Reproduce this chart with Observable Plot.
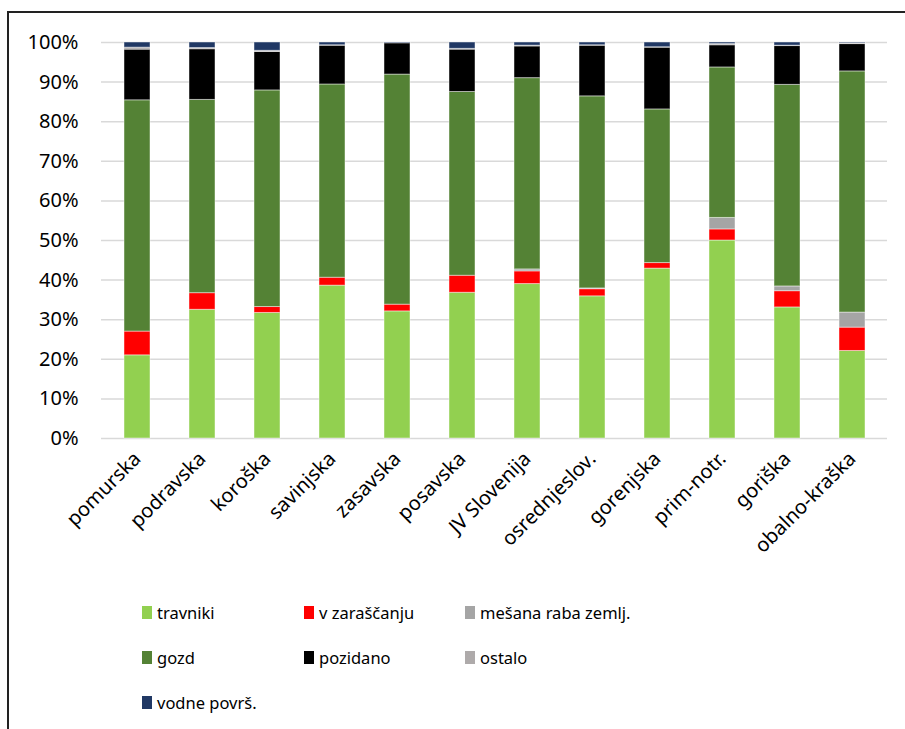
<!DOCTYPE html>
<html>
<head>
<meta charset="utf-8">
<script src="https://cdn.jsdelivr.net/npm/d3@7"></script>
<script src="https://cdn.jsdelivr.net/npm/@observablehq/plot@0.6"></script>
<style>
  html, body { margin: 0; padding: 0; background: #fff; }
  #wrap { position: relative; width: 905px; height: 729px; overflow: hidden; font-family: "Noto Sans", sans-serif; }
  #frame { position: absolute; left: 7px; top: 11px; right: -4px; bottom: -4px; border-left: 2px solid #222; border-top: 2px solid #222; }
  #chart { position: absolute; left: 0; top: 0; }
  #legend { position: absolute; left: 0; top: 0; width: 905px; height: 729px; pointer-events: none; }
  .item { position: absolute; display: flex; align-items: center; font-size: 16.5px; color: #000; white-space: nowrap; }
  .sw { width: 10px; height: 13px; margin-right: 5px; }
</style>
</head>
<body>
<div id="wrap">
  <div id="frame"></div>
  <div id="chart"></div>
  <div id="legend"></div>
</div>
<script>
// Regions (statistical regions of Slovenia)
const regions = ["pomurska", "podravska", "koroška", "savinjska", "zasavska", "posavska",
  "JV Slovenija", "osrednjeslov.", "gorenjska", "prim-notr.", "goriška", "obalno-kraška"];

// Land-use series, shares in % per region
const seriesNames = ["travniki", "v zaraščanju", "mešana raba zemlj.", "gozd", "pozidano", "ostalo", "vodne površ."];
const travniki    = [21.0, 32.5, 31.7, 38.6, 32.1, 36.8, 39.0, 35.9, 42.9, 50.0, 33.1, 22.1];
const vZarascanju = [ 6.0,  4.2,  1.5,  2.0,  1.7,  4.3,  3.2,  1.8,  1.4,  2.8,  4.1,  5.9];
const mesanaRaba  = [ 0.0,  0.0,  0.0,  0.0,  0.0,  0.0,  0.5,  0.2,  0.0,  2.9,  1.2,  3.8];
const gozd        = [58.4, 48.8, 54.7, 48.8, 58.1, 46.4, 48.3, 48.5, 38.8, 38.0, 50.9, 60.9];
const pozidano    = [12.8, 12.8,  9.7,  9.8,  7.9, 10.7,  8.0, 12.8, 15.6,  5.6,  9.8,  6.9];
const ostalo      = [ 0.5,  0.3,  0.3,  0.1,  0.0,  0.2,  0.2,  0.1,  0.1,  0.3,  0.1,  0.2];
const vodne       = [ 1.3,  1.4,  2.1,  0.7,  0.2,  1.6,  0.8,  0.7,  1.2,  0.4,  0.8,  0.2];
const seriesColors = ["#92D050", "#FF0000", "#A5A5A5", "#548235", "#000000", "#AEAAAA", "#203864"];
const yTicks = [0, 10, 20, 30, 40, 50, 60, 70, 80, 90, 100];

const columns = [travniki, vZarascanju, mesanaRaba, gozd, pozidano, ostalo, vodne];
const rows = [];
regions.forEach((r, i) => {
  seriesNames.forEach((s, j) => rows.push({region: r, series: s, value: columns[j][i]}));
});

const chart = Plot.plot({
  width: 905,
  height: 590,
  marginLeft: 101,
  marginRight: 18,
  marginTop: 42,
  marginBottom: 152,
  style: {fontFamily: "'Noto Sans', sans-serif", color: "#000", background: "transparent"},
  x: {domain: regions, paddingInner: 0.6, paddingOuter: 0.27, label: null},
  y: {domain: [0, 100], label: null},
  color: {domain: seriesNames, range: seriesColors},
  marks: [
    Plot.gridY(yTicks, {stroke: "#d9d9d9", strokeOpacity: 1, strokeWidth: 1.5}),
    Plot.barY(rows, Plot.stackY({order: seriesNames}, {
      x: "region", y: "value", fill: "series",
      stroke: "#fff", strokeOpacity: 0.45, strokeWidth: 1
    })),
    Plot.axisY(yTicks, {tickSize: 0, tickPadding: 23, fontSize: 20, tickFormat: d => d + "%"}),
    Plot.axisX({tickSize: 0, tickPadding: 17, tickRotate: -45, fontSize: 20})
  ]
});
document.getElementById("chart").appendChild(chart);

// Legend: three columns, swatch + label
const legend = document.getElementById("legend");
const colX = [142, 304, 465];
const rowY = [612, 657, 702];
seriesNames.forEach((s, i) => {
  const item = document.createElement("div");
  item.className = "item";
  item.style.left = colX[i % 3] + "px";
  item.style.top = (rowY[Math.floor(i / 3)] - 12) + "px";
  item.style.height = "24px";
  const sw = document.createElement("span");
  sw.className = "sw";
  sw.style.background = seriesColors[i];
  const t = document.createElement("span");
  t.textContent = s;
  item.appendChild(sw);
  item.appendChild(t);
  legend.appendChild(item);
});
</script>
</body>
</html>
